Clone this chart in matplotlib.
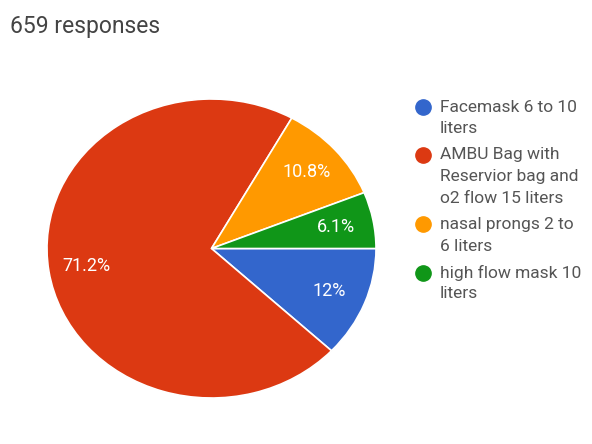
import matplotlib
matplotlib.use('Agg')
import matplotlib.pyplot as plt
from matplotlib.lines import Line2D

# Survey answers, clockwise from 3 o'clock
categories = [
    "Facemask 6 to 10\nliters",
    "AMBU Bag with\nReservior bag and\no2 flow 15 liters",
    "nasal prongs 2 to\n6 liters",
    "high flow mask 10\nliters",
]
shares = [12, 71.2, 10.8, 6.1]
colors = ["#3366cc", "#dc3912", "#ff9900", "#109618"]
title = "659 responses"

W, H = 592, 444
plt.rcParams['font.family'] = ['Roboto', 'DejaVu Sans']

fig = plt.figure(figsize=(W / 100, H / 100), dpi=100)


def fig_xy(px, py):
    """Pixel position (from top-left) to figure fraction."""
    return px / W, 1 - py / H


# Pie area, slightly wider than tall
left, top, right, bottom = 47, 99, 376, 398
ax = fig.add_axes([left / W, 1 - bottom / H, (right - left) / W, (bottom - top) / H])

wedges, texts = ax.pie(
    shares, colors=colors, startangle=0, counterclock=False,
    labels=[f"{v:g}%" for v in shares], labeldistance=0.77,
    wedgeprops=dict(edgecolor="white", linewidth=1.2),
    textprops=dict(color="white", fontsize=13),
)
for t in texts:
    t.set_horizontalalignment("center")
    t.set_verticalalignment("center")
ax.set_aspect('auto')
ax.set_xlim(-1, 1)
ax.set_ylim(-1, 1)
ax.axis('off')

# Title
fig.text(*fig_xy(10, 26), title, fontsize=16.5, color="#444444", va="center", ha="left")

# Legend drawn entry by entry, one text per line
line_h = 21.5
y = 107
for label, color in zip(categories, colors):
    mx, my = fig_xy(423, y)
    fig.add_artist(Line2D([mx], [my], marker="o", markersize=11, color=color,
                          linestyle="none", transform=fig.transFigure))
    lines = label.split("\n")
    for i, line in enumerate(lines):
        tx, ty = fig_xy(440, y + i * line_h)
        fig.text(tx, ty, line, fontsize=12.5, color="#555555", va="center", ha="left")
    y += len(lines) * line_h + 5

fig.savefig("out.png", dpi=100)
